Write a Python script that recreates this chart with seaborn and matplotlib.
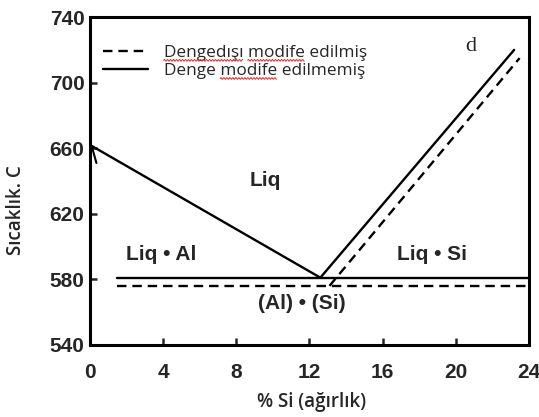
import numpy as np
import pandas as pd
import matplotlib
matplotlib.use("Agg")
import matplotlib.pyplot as plt
import seaborn as sns

# phase boundaries (% Si, deg C)
liq_left_si   = [0.0, 12.6]
liq_left_t    = [662, 581]
liq_right_si  = [12.6, 23.2]
liq_right_t   = [581, 720]
eut_si        = [1.5, 24.0]
eut_t         = [581, 581]

mod_right_si  = [13.1, 23.5]
mod_right_t   = [576, 715]
mod_eut_si    = [1.5, 24.0]
mod_eut_t     = [576, 576]

curl_si = [0.1, 0.35]
curl_t  = [661, 651]

x_ticks = [0, 4, 8, 12, 16, 20, 24]
y_ticks = [540, 580, 620, 660, 700, 740]

regions = [
    ("Liq",          9.6, 640),
    ("Liq • Al",     3.9, 595),
    ("Liq • Si",    18.7, 595),
    ("(Al) • (Si)", 11.6, 565),
]

legend_labels = ["Dengedışı modife edilmiş", "Denge modife edilmemiş"]
# words flagged by the spell checker in the original (red wavy underline)
flagged = [["Dengedışı", "modife"], ["modife"]]


def wavy_underline(fig, renderer, text_artist, word):
    s    = text_artist.get_text()
    prop = text_artist.get_fontproperties()
    bb   = text_artist.get_window_extent(renderer)
    start = s.index(word)
    w0, _, _ = renderer.get_text_width_height_descent(s[:start], prop, ismath=False) if start else (0, 0, 0)
    w1, _, _ = renderer.get_text_width_height_descent(s[:start + len(word)], prop, ismath=False)
    xs = np.arange(bb.x0 + w0, bb.x0 + w1, 0.5)
    ys = bb.y0 + 1.0 + 0.9 * np.sin((xs - xs[0]) * 2 * np.pi / 3.0)
    pts = fig.transFigure.inverted().transform(np.column_stack([xs, ys]))
    fig.lines.append(plt.Line2D(pts[:, 0], pts[:, 1], transform=fig.transFigure,
                                color="#e03030", lw=0.7))


def draw():
    sns.set_style("white")
    plt.rcParams["font.family"] = ["DejaVu Sans"]

    fig = plt.figure(figsize=(5.39, 4.17), dpi=100)
    ax = fig.add_axes([0.167, 0.173, 0.814, 0.786])

    lw = 1.7
    dash = (0, (4, 2.5))
    sns.lineplot(x=mod_eut_si, y=mod_eut_t, color="black", lw=lw,
                 linestyle=dash, sort=False, ax=ax, label=legend_labels[0])
    sns.lineplot(x=mod_right_si, y=mod_right_t, color="black", lw=lw,
                 linestyle=dash, sort=False, ax=ax)
    sns.lineplot(x=eut_si, y=eut_t, color="black", lw=lw, sort=False,
                 ax=ax, label=legend_labels[1])
    sns.lineplot(x=liq_left_si, y=liq_left_t, color="black", lw=lw,
                 sort=False, ax=ax)
    sns.lineplot(x=liq_right_si, y=liq_right_t, color="black", lw=lw,
                 sort=False, ax=ax)
    sns.lineplot(x=curl_si, y=curl_t, color="black", lw=1.5,
                 sort=False, ax=ax)

    for txt, xx, yy in regions:
        ax.text(xx, yy, txt, ha="center", va="center", fontsize=15,
                fontweight="bold", family="Liberation Sans")

    ax.text(20.8, 722, "d", ha="center", va="center", fontsize=16,
            family="Liberation Serif")

    ax.set_xlim(0, 24)
    ax.set_ylim(540, 740)
    ax.set_xticks(x_ticks)
    ax.set_yticks(y_ticks)
    ax.tick_params(direction="in", length=5, width=1.8, bottom=True, left=True)
    ax.tick_params(axis="x", pad=13)
    ax.tick_params(axis="y", pad=4)
    for lab in ax.get_xticklabels() + ax.get_yticklabels():
        lab.set_fontweight("bold")
        lab.set_fontsize(15)
        lab.set_family("Liberation Sans")
    for s in ax.spines.values():
        s.set_color("black")
        s.set_linewidth(2.2)

    ax.set_xlabel("% Si (ağırlık)", fontsize=13.5, fontweight="semibold",
                  family="Open Sans")
    ax.set_ylabel("Sıcaklık. C", fontsize=13.5, fontweight="semibold",
                  family="Open Sans")
    ax.xaxis.set_label_coords(0.505, -0.145)
    ax.yaxis.set_label_coords(-0.147, 0.41)

    leg = ax.legend(loc="upper left", bbox_to_anchor=(0.015, 0.935),
                    frameon=False, handlelength=2.6, handletextpad=0.9,
                    labelspacing=0.12, borderaxespad=0,
                    prop={"family": "Open Sans", "size": 12.4})

    fig.canvas.draw()
    renderer = fig.canvas.get_renderer()
    for txt, words in zip(leg.get_texts(), flagged):
        for w in words:
            wavy_underline(fig, renderer, txt, w)

    fig.savefig("out.png", dpi=100)
    plt.close(fig)


if __name__ == "__main__":
    draw()
